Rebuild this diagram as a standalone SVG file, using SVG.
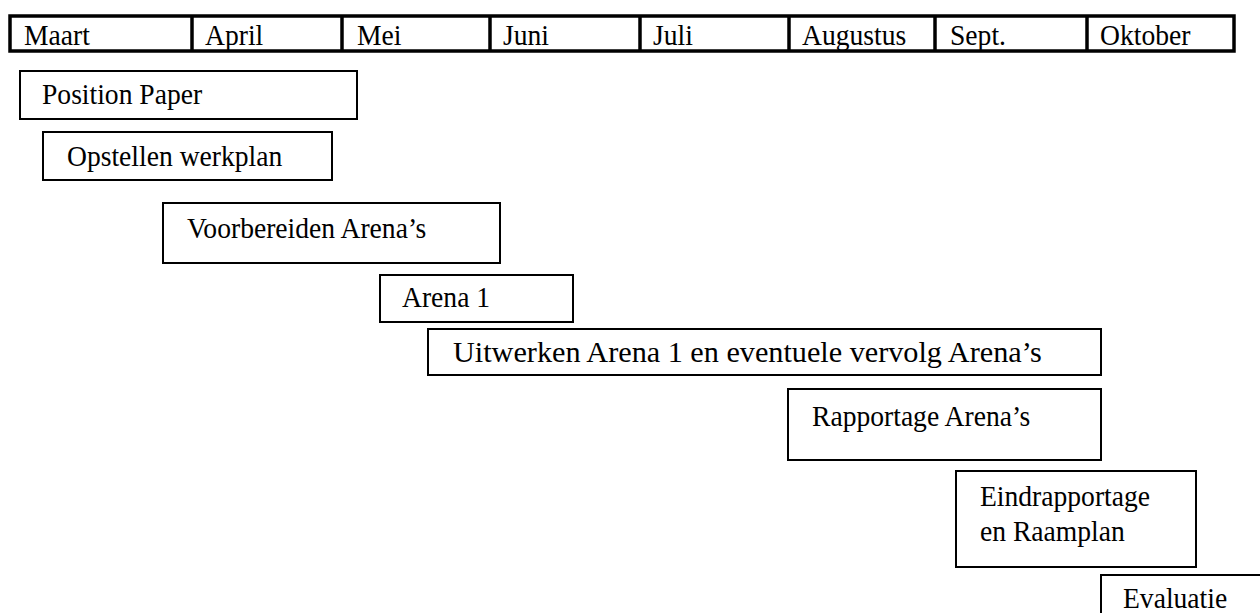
<svg xmlns="http://www.w3.org/2000/svg" width="1260" height="613" viewBox="0 0 1260 613">
<style>
text{font-family:"Liberation Serif","Times New Roman",serif;font-size:30px;fill:#000}
.box{fill:#fff;stroke:#000;stroke-width:2}
.hdr{fill:#fff;stroke:#000;stroke-width:3.5}
.div{stroke:#000;stroke-width:3.5}
</style>
<rect width="1260" height="613" fill="#fff"/>
<g id="header">
<rect class="hdr" x="10" y="16" width="1224" height="35"/>
<line class="div" x1="192" y1="16" x2="192" y2="51"/>
<line class="div" x1="342" y1="16" x2="342" y2="51"/>
<line class="div" x1="490" y1="16" x2="490" y2="51"/>
<line class="div" x1="640" y1="16" x2="640" y2="51"/>
<line class="div" x1="789" y1="16" x2="789" y2="51"/>
<line class="div" x1="935" y1="16" x2="935" y2="51"/>
<line class="div" x1="1087" y1="16" x2="1087" y2="51"/>
<text transform="translate(24,45) scale(0.92,1)">Maart</text>
<text transform="translate(205,45) scale(0.92,1)">April</text>
<text transform="translate(357,45) scale(0.92,1)">Mei</text>
<text transform="translate(503,45) scale(0.92,1)">Juni</text>
<text transform="translate(653,45) scale(0.92,1)">Juli</text>
<text transform="translate(802,45) scale(0.92,1)">Augustus</text>
<text transform="translate(950,45) scale(0.92,1)">Sept.</text>
<text transform="translate(1100,45) scale(0.92,1)">Oktober</text>
</g>
<g id="connectors"></g>
<g id="position-paper">
<rect class="box" x="20" y="71" width="337" height="48"/>
<text transform="translate(42,104) scale(0.92,1)">Position Paper</text>
</g>
<g id="opstellen-werkplan">
<rect class="box" x="43" y="132" width="289" height="48"/>
<text transform="translate(67,166) scale(0.92,1)">Opstellen werkplan</text>
</g>
<g id="voorbereiden-arenas">
<rect class="box" x="163" y="203" width="337" height="60"/>
<text transform="translate(187,238) scale(0.92,1)">Voorbereiden Arena’s</text>
</g>
<g id="arena-1">
<rect class="box" x="380" y="275" width="193" height="47"/>
<text transform="translate(402,307) scale(0.92,1)">Arena 1</text>
</g>
<g id="uitwerken">
<rect class="box" x="428" y="329" width="673" height="46"/>
<text transform="translate(453,362) scale(0.92,1)" textLength="640" lengthAdjust="spacingAndGlyphs">Uitwerken Arena 1 en eventuele vervolg Arena’s</text>
</g>
<g id="rapportage-arenas">
<rect class="box" x="788" y="389" width="313" height="71"/>
<text transform="translate(812,426) scale(0.92,1)">Rapportage Arena’s</text>
</g>
<g id="eindrapportage">
<rect class="box" x="956" y="471" width="240" height="96"/>
<text transform="translate(980,506) scale(0.92,1)">Eindrapportage</text>
<text transform="translate(980,541) scale(0.92,1)">en Raamplan</text>
</g>
<g id="evaluatie">
<rect class="box" x="1101" y="575" width="170" height="50"/>
<text transform="translate(1123,608) scale(0.92,1)">Evaluatie</text>
</g>
</svg>
